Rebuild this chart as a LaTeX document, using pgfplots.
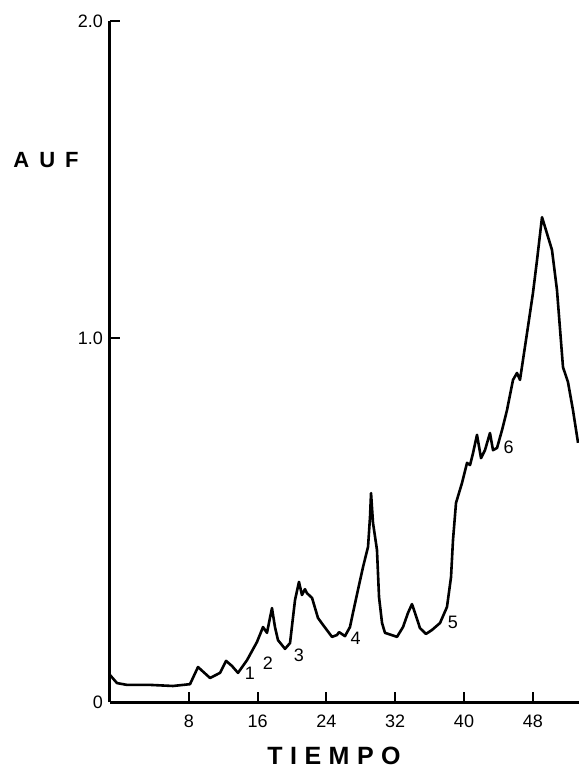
\documentclass[border=0pt]{standalone}
\usepackage{pgfplots}
\pgfplotsset{compat=1.18}
\usepackage{fontspec}
\setmainfont{Liberation Sans}
\newfontfamily\spacedA[LetterSpace=30]{Liberation Sans}
\newfontfamily\spacedB[LetterSpace=45]{Liberation Sans}
\begin{document}
\begin{tikzpicture}
\useasboundingbox (-55pt,-32.5pt) rectangle (234.5pt,351pt);
\begin{axis}[
  at={(0,0)}, anchor=south west,
  width=234.5pt, height=340.5pt, scale only axis,
  xmin=-1.163, xmax=53.37, ymin=0, ymax=1.871,
  axis lines*=left,
  axis line style={line width=1.5pt},
  xtick={8,16,24,32,40,48},
  ytick={0,1,1.871}, yticklabels={0,1.0,2.0},
  tick align=inside, major tick length=5pt,
  tick style={black, line width=1pt},
  tick label style={font=\fontsize{9}{10}\selectfont},
  xticklabel style={yshift=-3pt},
  /pgf/number format/assume math mode=true,
  clip=false,
]
\addplot[black, line width=1.3pt, line join=round] coordinates {
(-1.16,0.074) (-0.35,0.052) (0.81,0.047) (3.49,0.047) (6.16,0.044) (8.14,0.049)
(9.07,0.096) (10.47,0.066) (11.63,0.080) (12.33,0.113) (13.02,0.099) (13.72,0.080)
(14.77,0.115) (15.93,0.165) (16.63,0.206) (17.09,0.190) (17.67,0.258) (18.02,0.206)
(18.37,0.170) (19.19,0.146) (19.77,0.162) (20.35,0.280) (20.81,0.330) (21.16,0.294)
(21.51,0.310) (21.74,0.299) (22.33,0.286) (23.02,0.231) (23.60,0.212) (24.65,0.179)
(25.23,0.184) (25.47,0.192) (26.16,0.181) (26.74,0.206) (27.09,0.245) (27.67,0.308)
(28.26,0.371) (28.84,0.426) (29.07,0.508) (29.19,0.574) (29.42,0.492) (29.88,0.418)
(30.12,0.288) (30.47,0.217) (30.81,0.190) (32.21,0.179) (32.91,0.206) (33.49,0.245)
(33.95,0.269) (34.30,0.245) (34.88,0.203) (35.58,0.187) (36.28,0.198) (37.21,0.217)
(38.02,0.261) (38.49,0.343) (38.72,0.445) (39.07,0.547) (39.77,0.602) (40.35,0.657)
(40.70,0.651) (41.05,0.684) (41.51,0.734) (41.98,0.670) (42.44,0.692) (43.02,0.739)
(43.37,0.692) (43.84,0.698) (44.42,0.747) (45.00,0.802) (45.70,0.885) (46.16,0.904)
(46.51,0.885) (47.33,1.014) (48.02,1.124) (48.49,1.214) (49.07,1.332) (49.42,1.305)
(50.23,1.242) (50.81,1.132) (51.51,0.920) (52.09,0.879) (52.67,0.802) (53.26,0.712)
};
\begin{scope}[font=\fontsize{9}{10}\selectfont]
\node at (axis cs:15.1,0.080) {1};
\node at (axis cs:17.2,0.107) {2};
\node at (axis cs:20.8,0.129) {3};
\node at (axis cs:27.4,0.176) {4};
\node at (axis cs:38.7,0.220) {5};
\node at (axis cs:45.2,0.700) {6};
\end{scope}
\end{axis}
\node[font=\spacedA\bfseries\fontsize{12.5}{14}\selectfont] at (112pt,-27pt) {TIEMPO};
\node[font=\spacedB\bfseries\fontsize{11}{13}\selectfont] at (-32pt,271pt) {AUF};
\end{tikzpicture}
\end{document}
